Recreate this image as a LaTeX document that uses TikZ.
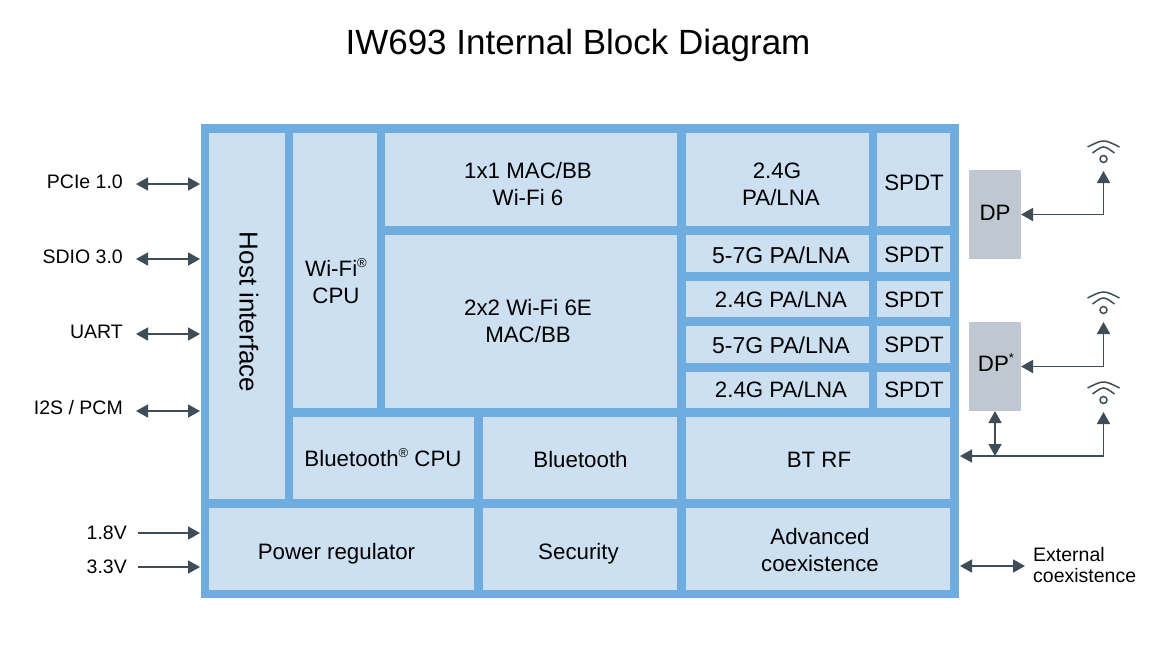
\documentclass[tikz,border=0pt]{standalone}
\usepackage{fontspec}
\setmainfont{Liberation Sans}
\usetikzlibrary{arrows.meta}
\definecolor{frameblue}{HTML}{6FADE0}
\definecolor{cellblue}{HTML}{CCE0F2}
\definecolor{dpgrey}{HTML}{BFC8D0}
\definecolor{wire}{HTML}{3E4D57}
\newcommand{\supmark}[1]{\smash{\raisebox{0.42em}{\fontsize{13}{13}\selectfont #1}}}
\newcommand{\cellbox}[8]{%
  \pgfmathsetmacro{\cw}{#4-#2}\pgfmathsetmacro{\ch}{#5-#3}%
  \pgfmathsetmacro{\cx}{(#4+#2)/2}\pgfmathsetmacro{\cy}{(#5+#3)/2}%
  \node[cellshape,minimum width=\cw pt,minimum height=\ch pt] (#1) at (\cx,\cy) {};
  \node[lbl] (#1t) at (#6,#7) {#8};
}
\newcommand{\wifi}[3]{%
  \node[circle,draw=wire,line width=1.5pt,minimum size=7pt,inner sep=0pt] (#1) at (#2,#3) {};
  \draw[wire,line width=1.5pt] (#2-16,#3-12) .. controls (#2,#3-20) .. (#2+16,#3-12);
  \draw[wire,line width=1.5pt] (#2-11,#3-6) .. controls (#2,#3-14) .. (#2+11,#3-6);
}
\tikzset{
  cellshape/.style={fill=cellblue,draw=none,inner sep=0pt,outer sep=0pt},
  lbl/.style={inner sep=0pt,align=center,font=\fontsize{22.3}{27}\selectfont,text=black},
  side/.style={inner sep=0pt,align=left,font=\fontsize{19.5}{21}\selectfont,text=black},
  link/.style={draw=wire,line width=1.7pt,{Triangle[width=13pt,length=12pt]}-{Triangle[width=13pt,length=12pt]}},
  inlink/.style={draw=wire,line width=1.7pt,-{Triangle[width=13pt,length=12pt]}},
  toframe/.style={shorten >=1pt},
}
\begin{document}
\begin{tikzpicture}[x=1pt,y=-1pt]
\useasboundingbox (0,0) rectangle (1164,649);
\fill[white] (0,0) rectangle (1164,649);
\node[font=\fontsize{35}{40}\selectfont,inner sep=0pt] (title) at (578,45) {IW693 Internal Block Diagram};
\node[fill=frameblue,inner sep=0pt,outer sep=0pt,minimum width=758pt,minimum height=474pt] (outer) at (580,361) {};
\cellbox{host}{209}{133}{285}{499}{249}{312}{\rotatebox{-90}{\fontsize{26}{27}\selectfont Host interface}}
\cellbox{wcpu}{293}{133}{377}{408}{336}{282}{Wi-Fi\supmark{®}\\CPU}
\cellbox{mac}{385}{133}{677}{226}{528}{184}{1x1 MAC/BB\\Wi-Fi 6}
\cellbox{mactwo}{385}{235}{677}{408}{528}{321}{2x2 Wi-Fi 6E\\MAC/BB}
\cellbox{pa}{686}{133}{869}{226}{781}{184}{\hspace*{-8pt}2.4G\\PA/LNA}
\cellbox{sa}{877}{133}{950}{226}{914}{183}{SPDT}
\cellbox{pb}{686}{235}{869}{272}{781}{255}{\fontsize{23}{27}\selectfont 5-7G PA/LNA}
\cellbox{sb}{877}{235}{950}{272}{914}{255}{SPDT}
\cellbox{pc}{686}{281}{869}{317}{781}{300}{2.4G PA/LNA}
\cellbox{sc}{877}{281}{950}{317}{914}{300}{SPDT}
\cellbox{pd}{686}{326}{869}{363}{781}{345}{\fontsize{23}{27}\selectfont 5-7G PA/LNA}
\cellbox{sd}{877}{326}{950}{363}{914}{345}{SPDT}
\cellbox{pe}{686}{372}{869}{408}{781}{390}{2.4G PA/LNA}
\cellbox{se}{877}{372}{950}{408}{914}{390}{SPDT}
\cellbox{btcpu}{293}{417}{474}{499}{383}{459}{Bluetooth\supmark{®} CPU}
\cellbox{bt}{483}{417}{677}{499}{580.5}{460}{Bluetooth}
\cellbox{btrf}{686}{417}{950}{499}{819}{460}{BT RF}
\cellbox{power}{209}{508}{474}{590}{336.5}{554}{Power regulator}
\cellbox{sec}{483}{508}{677}{590}{578.5}{554}{Security}
\cellbox{adv}{686}{508}{950}{590}{820}{550}{Advanced\\coexistence}
\node[fill=dpgrey,inner sep=0pt,outer sep=0pt,minimum width=52pt,minimum height=89pt] (dp) at (995,214.5) {};
\node[lbl] (dpt) at (995,213) {DP};
\node[fill=dpgrey,inner sep=0pt,outer sep=0pt,minimum width=52pt,minimum height=89pt] (dps) at (995,366.5) {};
\node[lbl] (dpst) at (996,364) {DP\supmark{*}};
% left labels
\node[side,anchor=east] (pcie) at (123,182) {PCIe 1.0};
\node[side,anchor=east] (sdio) at (123,257) {SDIO 3.0};
\node[side,anchor=east] (uart) at (123,332) {UART};
\node[side,anchor=east] (i2s) at (123,408) {I2S / PCM};
\node[side,anchor=east] (v18) at (127,533) {1.8V};
\node[side,anchor=east] (v33) at (127,567) {3.3V};
\node[side,anchor=west] (ext) at (1033,565) {External\\coexistence};
\coordinate (pcieL) at (136,184);
\coordinate (sdioL) at (136,259);
\coordinate (uartL) at (136,334);
\coordinate (i2sL) at (136,411);
\coordinate (v18L) at (138,533);
\coordinate (v33L) at (138,567);
\draw[link,toframe] (pcieL) -- (pcieL -| outer.west);
\draw[link,toframe] (sdioL) -- (sdioL -| outer.west);
\draw[link,toframe] (uartL) -- (uartL -| outer.west);
\draw[link,toframe] (i2sL) -- (i2sL -| outer.west);
\draw[inlink,toframe] (v18L) -- (v18L -| outer.west);
\draw[inlink,toframe] (v33L) -- (v33L -| outer.west);
\coordinate (extR) at (1025,566);
\draw[link,toframe] (extR) -- (extR -| outer.east);
% antennas
\wifi{wa}{1103.5}{159}
\wifi{wb}{1103.5}{310}
\wifi{wc}{1103.5}{400}
\coordinate (wafoot) at (1103.5,171);
\coordinate (wbfoot) at (1103.5,322);
\coordinate (wcfoot) at (1103.5,412);
\coordinate (btline) at (1103.5,456);
\coordinate (btjoin) at (995,456);
\draw[link] (wafoot) |- (dp.east);
\draw[link] (wbfoot) |- (dps.east);
\draw[link,toframe] (wcfoot) -- (btline) -- (btline -| outer.east);
\draw[link] (dps.south) -- (btjoin);
\end{tikzpicture}
\end{document}
